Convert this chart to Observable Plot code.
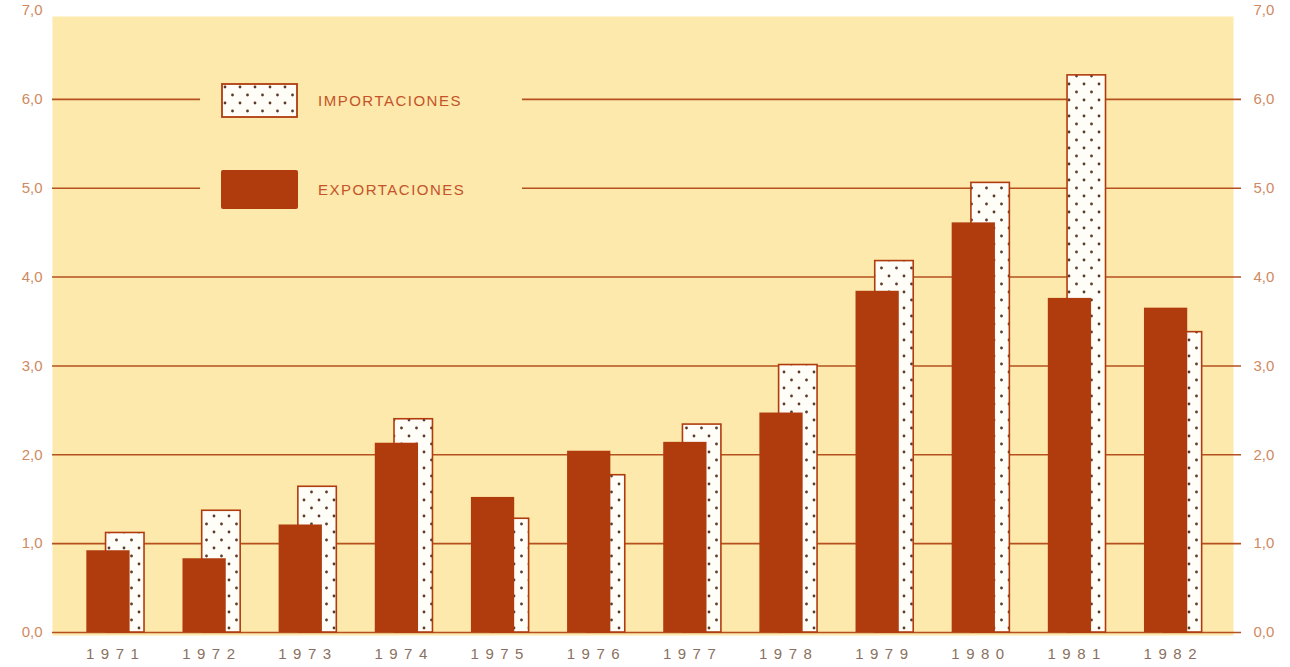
<!DOCTYPE html>
<html>
<head>
<meta charset="utf-8">
<script src="https://cdn.jsdelivr.net/npm/d3@7"></script>
<script src="https://cdn.jsdelivr.net/npm/@observablehq/plot@0.6"></script>
<style>
  html, body { margin: 0; padding: 0; background: #ffffff; }
  #wrap { position: relative; width: 1290px; height: 667px; overflow: hidden; }
  #chart svg { display: block; }
  #chart g[aria-label="x-axis tick label"] text { letter-spacing: 6.5px; }
  .legend-cover { position: absolute; left: 200px; top: 76px; width: 322px; height: 142px; background: #fce9ab; }
  .sw { position: absolute; }
  .lab { position: absolute; font-family: "Liberation Sans", Arial, sans-serif; font-size: 15px; letter-spacing: 1.5px; color: #c4532a; line-height: 1; }
</style>
</head>
<body>
<div id="wrap">
  <div id="chart"></div>
  <div class="legend-cover"></div>
  <svg class="sw" style="left:221px;top:83px" width="78" height="36">
    <rect x="1" y="1" width="75" height="33" fill="url(#dots)" stroke="#b03c0e" stroke-width="1.8"/>
  </svg>
  <div class="lab" style="left:318px;top:93px">IMPORTACIONES</div>
  <svg class="sw" style="left:220px;top:169px" width="80" height="42">
    <rect x="1" y="1" width="77" height="39" rx="2" fill="#b03c0e"/>
  </svg>
  <div class="lab" style="left:318px;top:182px">EXPORTACIONES</div>
</div>
<script>
const years = [1971, 1972, 1973, 1974, 1975, 1976, 1977, 1978, 1979, 1980, 1981, 1982];
const exportaciones = [0.92, 0.83, 1.21, 2.13, 1.52, 2.04, 2.14, 2.47, 3.84, 4.61, 3.76, 3.65];
const importaciones = [1.12, 1.37, 1.64, 2.40, 1.28, 1.77, 2.34, 3.01, 4.18, 5.06, 6.27, 3.38];
const yTicks = [0, 1, 2, 3, 4, 5, 6, 7];
const gridValues = [0, 1, 2, 3, 4, 5, 6];

const YELLOW = "#fce9ab";
const BAR = "#b03c0e";
const GRID = "#b5501f";
const NUMCOL = "#cf8a62";
const YEARCOL = "#8a7060";

const data = years.map((year, i) => ({year, exp: exportaciones[i], imp: importaciones[i]}));
const fmt = d => d.toFixed(1).replace(".", ",");

const svg = Plot.plot({
  width: 1290,
  height: 667,
  marginLeft: 52,
  marginRight: 57,
  marginTop: 10,
  marginBottom: 35,
  style: {background: "transparent", fontFamily: "'Liberation Sans', Arial, sans-serif"},
  x: {type: "linear", domain: [1970.343, 1982.626]},
  y: {domain: [0, 7]},
  marks: [
    Plot.frame({fill: YELLOW, stroke: null, insetTop: 6, insetBottom: -3}),
    Plot.ruleY(gridValues, {stroke: GRID, strokeWidth: 1.6, insetRight: -8}),
    Plot.rectY(data, {x1: d => d.year - 0.10, x2: d => d.year + 0.30, y1: () => 0, y2: "imp",
      fill: "url(#dots)", stroke: BAR, strokeWidth: 1.6}),
    Plot.rectY(data, {x1: d => d.year - 0.30, x2: d => d.year + 0.15, y1: () => 0, y2: "exp", fill: BAR}),
    Plot.axisY({anchor: "left", ticks: yTicks, tickSize: 0, tickPadding: 10, tickFormat: fmt, fontSize: 15, fill: NUMCOL, label: null}),
    Plot.axisY({anchor: "right", ticks: yTicks, tickSize: 0, tickPadding: 20, tickFormat: fmt, fontSize: 15, fill: NUMCOL, label: null}),
    Plot.axisX({ticks: years, tickSize: 0, tickPadding: 16, tickFormat: d => String(d), fontSize: 15, fill: YEARCOL, label: null})
  ]
});

// dotted pattern for imports
const ns = "http://www.w3.org/2000/svg";
function makeDefs(target) {
  const defs = document.createElementNS(ns, "defs");
  const pat = document.createElementNS(ns, "pattern");
  pat.setAttribute("id", "dots");
  pat.setAttribute("width", "15");
  pat.setAttribute("height", "16");
  pat.setAttribute("patternUnits", "userSpaceOnUse");
  const bg = document.createElementNS(ns, "rect");
  bg.setAttribute("width", "15"); bg.setAttribute("height", "16"); bg.setAttribute("fill", "#fffdf7");
  pat.appendChild(bg);
  [[4, 4], [11.5, 12]].forEach(([cx, cy]) => {
    const c = document.createElementNS(ns, "circle");
    c.setAttribute("cx", cx); c.setAttribute("cy", cy); c.setAttribute("r", "1.4");
    c.setAttribute("fill", "#5b3a2c");
    pat.appendChild(c);
  });
  defs.appendChild(pat);
  target.insertBefore(defs, target.firstChild);
}
makeDefs(svg);
document.getElementById("chart").appendChild(svg);
</script>
</body>
</html>
